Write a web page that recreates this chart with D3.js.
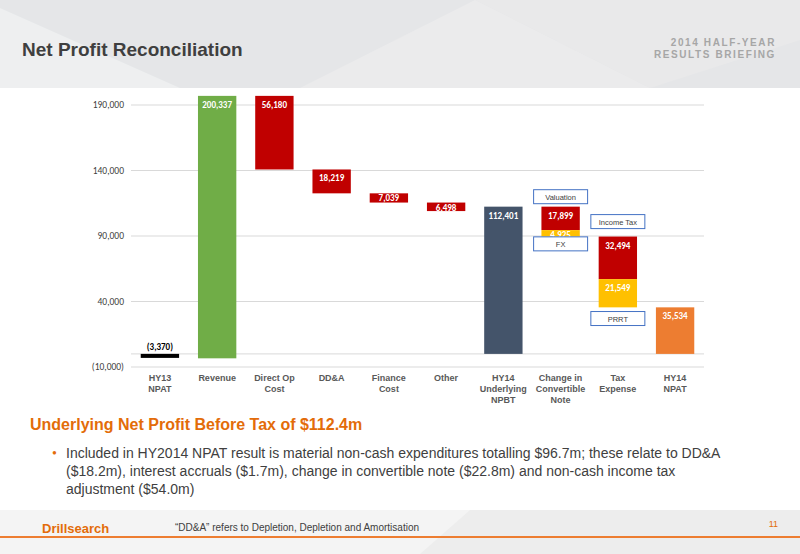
<!DOCTYPE html>
<html><head><meta charset="utf-8">
<script src="https://cdn.jsdelivr.net/npm/d3@7/dist/d3.min.js"></script>
<style>body{margin:0;background:#fff}svg{display:block}</style>
</head><body><svg id="c" width="800" height="554"></svg>
<script>
const categories = ["HY13\nNPAT","Revenue","Direct Op\nCost","DD&A","Finance\nCost","Other","HY14\nUnderlying\nNPBT","Change in\nConvertible\nNote","Tax\nExpense","HY14\nNPAT"];
const segStarts = [0, -3370, 196967, 140787, 122568, 115529, 0, 112401, 94502, 89577, 57083, 0];
const segEnds   = [-3370, 196967, 140787, 122568, 115529, 109031, 112401, 94502, 89577, 57083, 35534, 35534];
const segCats   = [0,1,2,3,4,5,6,7,7,8,8,9];
const segLabels = ["(3,370)","200,337","56,180","18,219","7,039","6,498","112,401","17,899","4,925","32,494","21,549","35,534"];
const segKinds  = ["black","green","red","red","red","red","navy","red","yellow","red","yellow","orange"];
const yTicks = [-10000, 40000, 90000, 140000, 190000];
const yTickLabels = ["(10,000)","40,000","90,000","140,000","190,000"];
const callouts = [["Valuation",7,120000],["FX",7,84000],["Income Tax",8,101000],["PRRT",8,27000]];

const colours = {black:"#000",green:"#70ad47",red:"#c00000",navy:"#44546a",yellow:"#ffc000",orange:"#ed7d31"};
const svg = d3.select("#c");
svg.append("rect").attr("width",800).attr("height",88).attr("fill","#e5e6e8");
svg.append("polygon").attr("points","0,8 180,88 0,88").attr("fill","#eeeff0");
svg.append("polygon").attr("points","300,88 475,0 650,88").attr("fill","#ebebec");
svg.append("polygon").attr("points","475,0 800,0 800,40 650,88").attr("fill","#e9e9ea");
svg.append("rect").attr("y",510).attr("width",800).attr("height",44).attr("fill","#f4f4f4");
svg.append("polygon").attr("points","470,510 800,510 800,554 420,554").attr("fill","#ededed");

svg.append("text").attr("x",22).attr("y",56).text("Net Profit Reconciliation")
  .attr("font-family","Liberation Sans, Arial").attr("font-weight","bold").attr("font-size",19).attr("fill","#3f3f3f");
["2014 HALF-YEAR","RESULTS BRIEFING"].forEach((t,i)=>svg.append("text").attr("x",776).attr("y",46+i*12).attr("text-anchor","end")
  .attr("font-family","Liberation Sans, Arial").attr("font-weight","bold").attr("font-size",10).attr("letter-spacing",1.6).attr("fill","#a6a6a6").text(t));

const x = d3.scaleBand().domain(d3.range(categories.length)).range([131,704]).paddingInner(0.33).paddingOuter(0.17);
const y = d3.scaleLinear().domain([-10000,190000]).range([367,105]);

const ax = svg.append("g");
ax.selectAll("line").data(yTicks.concat([0])).join("line")
  .attr("x1",131).attr("x2",704).attr("y1",d=>y(d)).attr("y2",d=>y(d)).attr("stroke","#d9d9d9");
ax.selectAll("text").data(yTicks).join("text").attr("x",124).attr("y",d=>y(d)+3).attr("text-anchor","end")
  .attr("font-family","Carlito, Liberation Sans").attr("font-size",9.5).attr("fill","#404040").text((d,i)=>yTickLabels[i]);

const segs = segStarts.map((s,i)=>({s,e:segEnds[i],c:segCats[i],l:segLabels[i],k:segKinds[i]}));
svg.selectAll("rect.b").data(segs).join("rect").attr("class","b")
  .attr("x",d=>x(d.c)).attr("width",x.bandwidth())
  .attr("y",d=>d.k==="black"?y(0):y(Math.max(d.s,d.e)))
  .attr("height",d=>d.k==="black"?4:Math.abs(y(d.s)-y(d.e)))
  .attr("fill",d=>colours[d.k]);
svg.selectAll("text.v").data(segs).join("text").attr("class","v")
  .attr("x",d=>x(d.c)+x.bandwidth()/2)
  .attr("y",d=>d.k==="black"?y(0)-4:y(Math.max(d.s,d.e))+(Math.abs(y(d.s)-y(d.e))<12?8:12))
  .attr("text-anchor","middle").attr("font-family","Carlito, Liberation Sans").attr("font-weight","bold").attr("font-size",9)
  .attr("fill",d=>d.k==="black"?"#000":"#fff").text(d=>d.l);

callouts.forEach(([t,c,v])=>{
  const cx=x(c)+x.bandwidth()/2;
  svg.append("rect").attr("x",cx-27).attr("y",y(v)-7).attr("width",54).attr("height",14).attr("fill","#fff").attr("stroke","#4472c4").attr("stroke-width",1);
  svg.append("text").attr("x",cx).attr("y",y(v)+3).attr("text-anchor","middle").attr("font-family","Liberation Sans").attr("font-size",7.5).attr("fill","#404040").text(t);
});

categories.forEach((c,i)=>{
  c.split("\n").forEach((ln,j)=>svg.append("text").attr("x",x(i)+x.bandwidth()/2).attr("y",381+j*11).attr("text-anchor","middle")
    .attr("font-family","Liberation Sans").attr("font-weight","bold").attr("font-size",9).attr("fill","#595959").text(ln));
});

svg.append("text").attr("x",30).attr("y",430).attr("font-family","Liberation Sans").attr("font-weight","bold").attr("font-size",16).attr("fill","#e36c09")
  .text("Underlying Net Profit Before Tax of $112.4m");
svg.append("text").attr("x",52).attr("y",458).attr("font-size",14).attr("fill","#e36c09").text("•");
["Included in HY2014 NPAT result is material non-cash expenditures totalling $96.7m; these relate to DD&A","($18.2m), interest accruals ($1.7m), change in convertible note ($22.8m) and non-cash income tax","adjustment ($54.0m)"]
 .forEach((t,i)=>svg.append("text").attr("x",66).attr("y",458+i*18).attr("font-family","Liberation Sans Narrow, Liberation Sans").attr("font-size",14).attr("fill","#404040").text(t));

svg.append("line").attr("x1",0).attr("x2",800).attr("y1",537).attr("y2",537).attr("stroke","#ed7d31").attr("stroke-width",2);
svg.append("text").attr("x",42).attr("y",533).attr("font-family","Liberation Sans").attr("font-weight","bold").attr("font-size",13).attr("fill","#e36c09").text("Drillsearch");
svg.append("text").attr("x",175).attr("y",531).attr("font-family","Liberation Sans Narrow, Liberation Sans").attr("font-size",10).attr("fill","#404040").text("“DD&A” refers to Depletion, Depletion and Amortisation");
svg.append("text").attr("x",778).attr("y",527).attr("text-anchor","end").attr("font-family","Liberation Sans").attr("font-size",9).attr("fill","#e36c09").text("11");
</script></body></html>
